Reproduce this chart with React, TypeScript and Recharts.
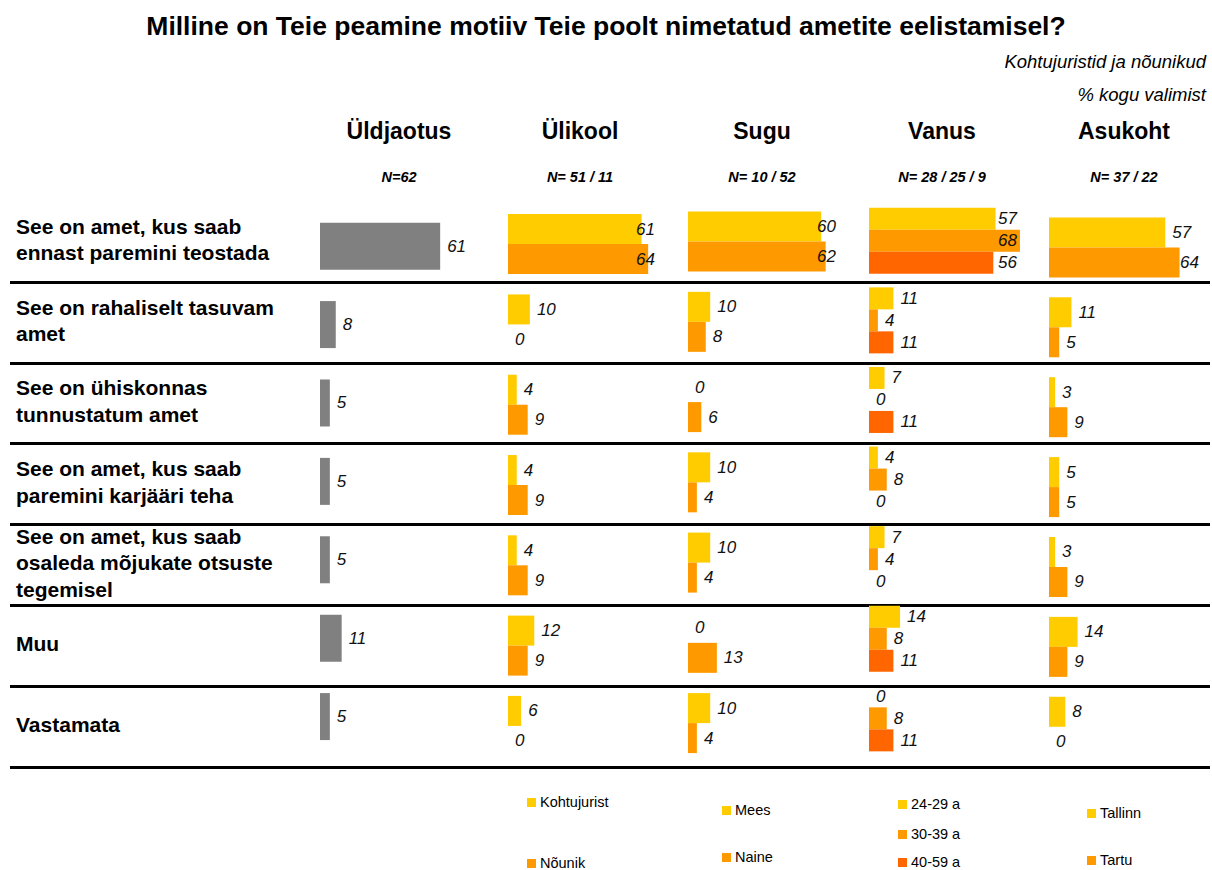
import React from "react";
import { BarChart, Bar, XAxis, YAxis, LabelList } from "recharts";

const ARIAL = "'Liberation Sans', Arial, Helvetica, sans-serif";

const GRAY = "#808080";
const YELLOW = "#FFCC00";
const ORANGE = "#FF9900";
const RED = "#FF6600";

const title = "Milline on Teie peamine motiiv Teie poolt nimetatud ametite eelistamisel?";
const subtitle1 = "Kohtujuristid ja nõunikud";
const subtitle2 = "% kogu valimist";

const categories = [
  "See on amet, kus saab\nennast paremini teostada",
  "See on rahaliselt tasuvam\namet",
  "See on ühiskonnas\ntunnustatum amet",
  "See on amet, kus saab\nparemini karjääri teha",
  "See on amet, kus saab\nosaleda mõjukate otsuste\ntegemisel",
  "Muu",
  "Vastamata",
];

const panelTitles = ["Üldjaotus", "Ülikool", "Sugu", "Vanus", "Asukoht"];
const panelN = ["N=62", "N= 51 / 11", "N= 10 / 52", "N= 28 / 25 / 9", "N= 37 / 22"];

// Üldjaotus
const overall = [61, 8, 5, 5, 5, 11, 5];

// Ülikool
const ulikoolNames = ["Kohtujurist", "Nõunik"];
const kohtujurist = [61, 10, 4, 4, 4, 12, 6];
const nounik = [64, 0, 9, 9, 9, 9, 0];

// Sugu
const suguNames = ["Mees", "Naine"];
const mees = [60, 10, 0, 10, 10, 0, 10];
const naine = [62, 8, 6, 4, 4, 13, 4];

// Vanus
const vanusNames = ["24-29 a", "30-39 a", "40-59 a"];
const age24 = [57, 11, 7, 4, 7, 14, 0];
const age30 = [68, 4, 0, 8, 4, 8, 8];
const age40 = [56, 11, 11, 0, 0, 11, 11];

// Asukoht
const asukohtNames = ["Tallinn", "Tartu"];
const tallinn = [57, 11, 3, 5, 3, 14, 8];
const tartu = [64, 5, 9, 5, 9, 9, 0];

const panelSeries: { names: string[]; values: number[][]; colors: string[] }[] = [
  { names: ["Kogu valim"], values: [overall], colors: [GRAY] },
  { names: ulikoolNames, values: [kohtujurist, nounik], colors: [YELLOW, ORANGE] },
  { names: suguNames, values: [mees, naine], colors: [YELLOW, ORANGE] },
  { names: vanusNames, values: [age24, age30, age40], colors: [YELLOW, ORANGE, RED] },
  { names: asukohtNames, values: [tallinn, tartu], colors: [YELLOW, ORANGE] },
];

// layout of each little chart (px)
const panelLayout = [
  { left: 320, top: 207.3, band: 78.4, scale: 1.97, gap: "20%", cap: 999, cx: 399 },
  { left: 508, top: 203.9, band: 80.3, scale: 2.19, gap: "12.6%", cap: 128, cx: 580 },
  { left: 688, top: 201.4, band: 80.25, scale: 2.22, gap: "13.2%", cap: 129, cx: 762 },
  { left: 869, top: 201.2, band: 79.6, scale: 2.22, gap: "8.5%", cap: 129, cx: 942 },
  { left: 1049, top: 206.5, band: 79.9, scale: 2.04, gap: "13%", cap: 131, cx: 1124 },
];

const legendLayout = [
  null,
  { x: 527, ys: [802, 863] },
  { x: 722, ys: [810, 857] },
  { x: 898, ys: [804, 834, 862] },
  { x: 1087, ys: [813, 860] },
];

const ROW_TOP = 200;
const ROW_H = 80.8;

function makeLabel(cap: number) {
  return (props: any) => {
    const { x, y, width, height, value } = props;
    const w = Number(value) === 0 ? 0 : Number(width);
    const tx = Math.min(Number(x) + w + 7, Number(x) + cap);
    return (
      <text
        x={tx}
        y={Number(y) + Number(height) / 2}
        dominantBaseline="central"
        fontStyle="italic"
        fontSize={17}
        fontFamily={ARIAL}
        fill="#111"
      >
        {value}
      </text>
    );
  };
}

function Panel({ idx }: { idx: number }) {
  const s = panelSeries[idx];
  const l = panelLayout[idx];
  const data = categories.map((c, i) => {
    const row: Record<string, number | string> = { name: c };
    s.values.forEach((v, k) => (row["s" + k] = v[i]));
    return row;
  });
  const plotW = 100 * l.scale;
  const right = 70;
  return (
    <div style={{ position: "absolute", left: l.left, top: l.top }}>
      <BarChart
        width={plotW + right}
        height={l.band * categories.length}
        data={data}
        layout="vertical"
        margin={{ top: 0, right, bottom: 0, left: 0 }}
        barCategoryGap={l.gap}
        barGap={0}
      >
        <XAxis type="number" domain={[0, 100]} hide />
        <YAxis type="category" dataKey="name" hide />
        {s.names.map((n, k) => (
          <Bar
            key={n}
            dataKey={"s" + k}
            name={n}
            fill={s.colors[k]}
            minPointSize={0.01}
            isAnimationActive={false}
          >
            <LabelList dataKey={"s" + k} content={makeLabel(l.cap)} />
          </Bar>
        ))}
      </BarChart>
    </div>
  );
}

export default function App() {
  return (
    <div
      style={{
        position: "absolute",
        left: 0,
        top: 0,
        width: 1212,
        height: 870,
        background: "#fff",
        overflow: "hidden",
        fontFamily: ARIAL,
        color: "#000",
      }}
    >
      {/* Title */}
      <div
        style={{
          position: "absolute",
          left: 0,
          top: 10,
          width: 1212,
          textAlign: "center",
          fontSize: 26.5,
          fontWeight: 700,
          lineHeight: "32px",
        }}
      >
        {title}
      </div>
      <div style={{ position: "absolute", right: 6, top: 51, fontSize: 18.5, fontStyle: "italic" }}>
        {subtitle1}
      </div>
      <div style={{ position: "absolute", right: 6, top: 84, fontSize: 18.5, fontStyle: "italic" }}>
        {subtitle2}
      </div>

      {/* Panel headers */}
      {panelTitles.map((t, i) => (
        <React.Fragment key={t}>
          <div
            style={{
              position: "absolute",
              left: panelLayout[i].cx - 100,
              width: 200,
              top: 117,
              textAlign: "center",
              fontSize: 23,
              fontWeight: 700,
              lineHeight: "28px",
            }}
          >
            {t}
          </div>
          <div
            style={{
              position: "absolute",
              left: panelLayout[i].cx - 100,
              width: 200,
              top: 168,
              textAlign: "center",
              fontSize: 14.5,
              fontWeight: 700,
              fontStyle: "italic",
              lineHeight: "18px",
            }}
          >
            {panelN[i]}
          </div>
        </React.Fragment>
      ))}

      {/* Row labels */}
      {categories.map((c, i) => (
        <div
          key={c}
          style={{
            position: "absolute",
            left: 16,
            top: ROW_TOP + i * ROW_H,
            height: ROW_H,
            width: 300,
            display: "flex",
            alignItems: "center",
            fontSize: 21,
            fontWeight: 700,
            lineHeight: "26.5px",
            whiteSpace: "pre-line",
          }}
        >
          {c}
        </div>
      ))}

      {/* Row separators */}
      {categories.map((c, i) => (
        <div
          key={"sep" + i}
          style={{
            position: "absolute",
            left: 10,
            width: 1200,
            top: ROW_TOP + (i + 1) * ROW_H,
            height: 3,
            background: "#000",
          }}
        />
      ))}

      {panelSeries.map((_, i) => (
        <Panel key={i} idx={i} />
      ))}

      {/* Legends */}
      {panelSeries.map((s, i) => {
        const lg = legendLayout[i];
        if (!lg) return null;
        return s.names.map((n, k) => (
          <div
            key={n}
            style={{
              position: "absolute",
              left: lg.x,
              top: lg.ys[k] - 10,
              height: 20,
              display: "flex",
              alignItems: "center",
              fontSize: 14.5,
              whiteSpace: "nowrap",
            }}
          >
            <span style={{ width: 9, height: 9, background: s.colors[k], marginRight: 4, display: "inline-block" }} />
            {n}
          </div>
        ));
      })}
    </div>
  );
}
